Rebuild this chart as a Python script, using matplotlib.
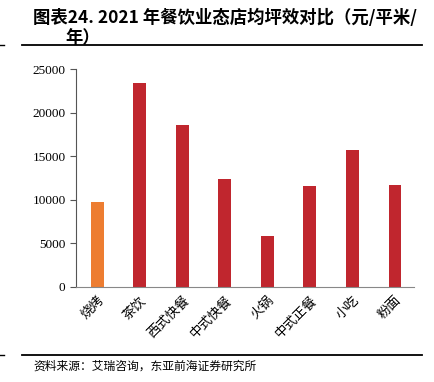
import matplotlib
matplotlib.use("Agg")
import matplotlib.pyplot as plt
from matplotlib.lines import Line2D

# data
categories = ["烧烤", "茶饮", "西式快餐", "中式快餐", "火锅", "中式正餐", "小吃", "粉面"]
values = [9750, 23400, 18600, 12400, 5850, 11600, 15700, 11700]
bar_colors = ["#ED7D31"] + ["#C0262E"] * 7
yticks = [0, 5000, 10000, 15000, 20000, 25000]

cjk = ["Noto Sans CJK SC", "DejaVu Sans"]
serif = ["Liberation Serif", "DejaVu Serif"]

fig = plt.figure(figsize=(4.34, 3.82), dpi=100)
ax = fig.add_axes([0.175, 0.249, 0.779, 0.570])

x = range(len(categories))
ax.bar(x, values, width=0.3, color=bar_colors)
ax.set_xlim(-0.5, len(categories) - 0.55)
ax.set_ylim(0, 25000)
ax.set_yticks(yticks)
ax.set_yticklabels([str(v) for v in yticks], family=serif, fontsize=9.5)
ax.set_xticks(list(x))
ax.set_xticklabels(categories, family=cjk, fontsize=9.5, rotation=45,
                   ha="right", rotation_mode="anchor")
ax.tick_params(axis="x", length=0, pad=5)
ax.tick_params(axis="y", direction="out", length=4, width=0.8, color="#555555")
for s in ["top", "right"]:
    ax.spines[s].set_visible(False)
ax.spines["left"].set_color("#555555")
ax.spines["bottom"].set_color("#888888")
ax.spines["left"].set_linewidth(0.8)
ax.spines["bottom"].set_linewidth(0.8)

# title
fig.text(0.076, 0.953, "图表24. 2021 年餐饮业态店均坪效对比（元/平米/", family=cjk,
         fontsize=12.5, fontweight="bold", va="center", ha="left")
fig.text(0.150, 0.900, "年）", family=cjk, fontsize=12.5, fontweight="bold",
         va="center", ha="left")

# frame lines
for yy in [1 - 45 / 382, 1 - 355 / 382]:
    fig.add_artist(Line2D([0.051, 0.972], [yy, yy], color="black", lw=1.3))
    fig.add_artist(Line2D([0.0, 0.01], [yy, yy], color="black", lw=1.0))

fig.text(0.076, 1 - 366 / 382, "资料来源：艾瑞咨询，东亚前海证券研究所", family=cjk,
         fontsize=8.5, va="center", ha="left")

fig.savefig("out.png", dpi=100)
